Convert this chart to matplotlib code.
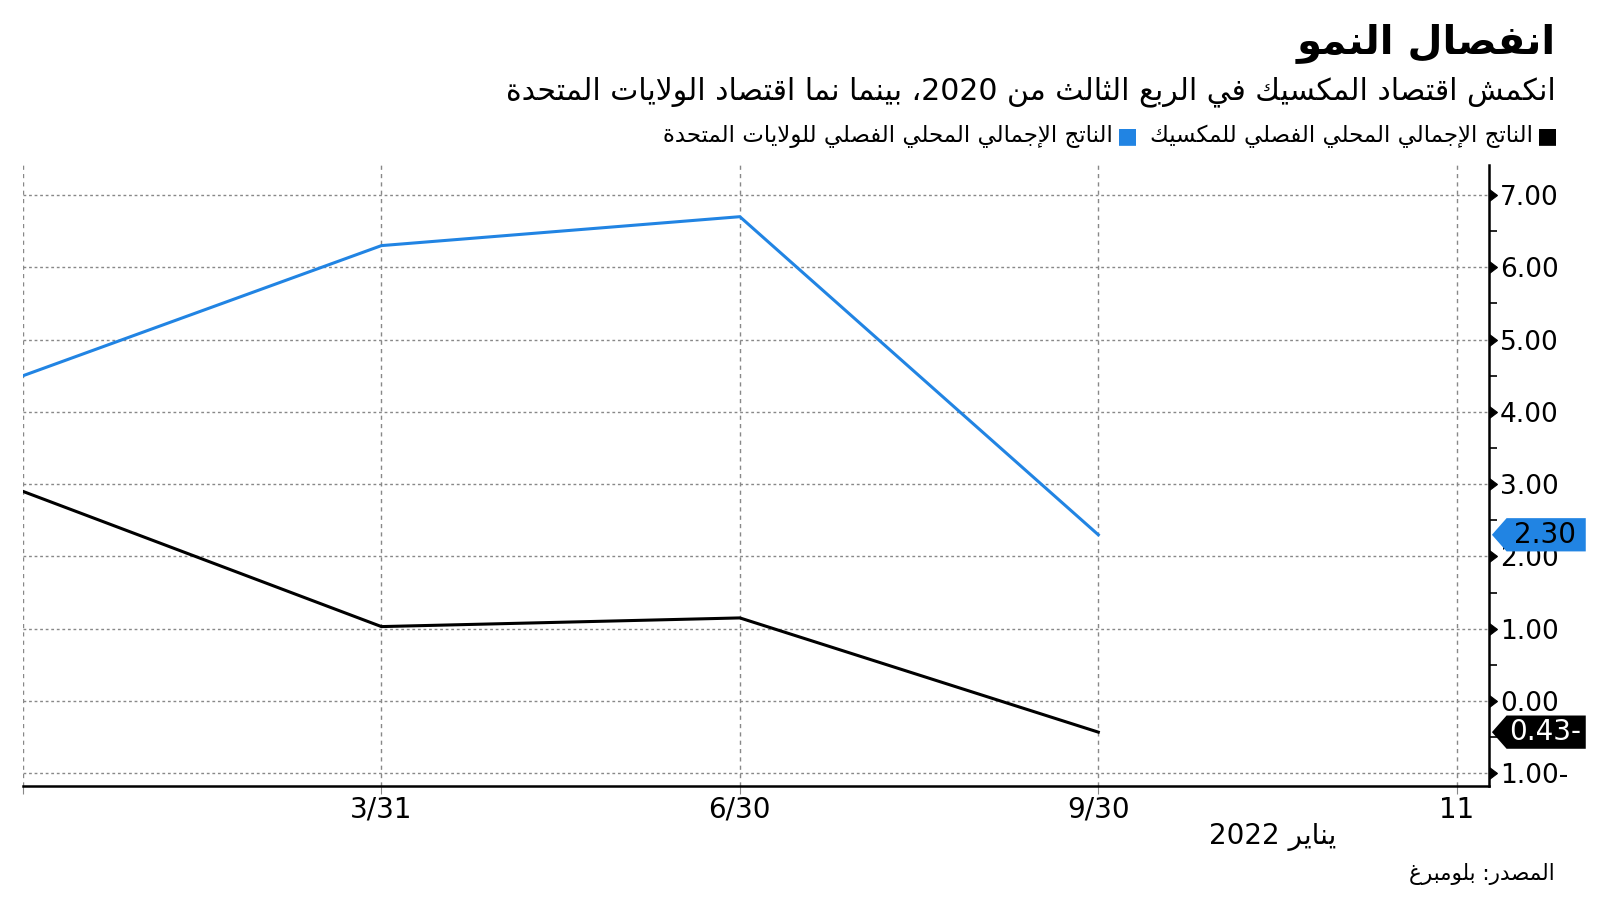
import re
import numpy as np
import matplotlib
matplotlib.use('Agg')
import matplotlib.pyplot as plt
from matplotlib.patches import Polygon
from matplotlib.transforms import blended_transform_factory

# Data
quarters = ['', '3/31', '6/30', '9/30', '11']
us_gdp = [4.50, 6.30, 6.70, 2.30]
mx_gdp = [2.90, 1.03, 1.15, -0.43]
y_ticks = [-1, 0, 1, 2, 3, 4, 5, 6, 7]
y_labels = ['1.00-', '0.00', '1.00', '2.00', '3.00', '4.00', '5.00', '6.00', '7.00']

title = 'انفصال النمو'
subtitle = 'انكمش اقتصاد المكسيك في الربع الثالث من 2020، بينما نما اقتصاد الولايات المتحدة'
leg_mx = 'الناتج الإجمالي المحلي الفصلي للمكسيك'
leg_us = 'الناتج الإجمالي المحلي الفصلي للولايات المتحدة'
month_label = 'يناير 2022'
source = 'المصدر: بلومبرغ'

blue = '#2184e3'

# --- minimal Arabic shaping (matplotlib does no joining / RTL) ---
_letters = [('ء', 0xFE80, 1), ('آ', 0xFE81, 2), ('أ', 0xFE83, 2), ('ؤ', 0xFE85, 2),
            ('إ', 0xFE87, 2), ('ئ', 0xFE89, 4), ('ا', 0xFE8D, 2), ('ب', 0xFE8F, 4),
            ('ة', 0xFE93, 2), ('ت', 0xFE95, 4), ('ث', 0xFE99, 4), ('ج', 0xFE9D, 4),
            ('ح', 0xFEA1, 4), ('خ', 0xFEA5, 4), ('د', 0xFEA9, 2), ('ذ', 0xFEAB, 2),
            ('ر', 0xFEAD, 2), ('ز', 0xFEAF, 2), ('س', 0xFEB1, 4), ('ش', 0xFEB5, 4),
            ('ص', 0xFEB9, 4), ('ض', 0xFEBD, 4), ('ط', 0xFEC1, 4), ('ظ', 0xFEC5, 4),
            ('ع', 0xFEC9, 4), ('غ', 0xFECD, 4), ('ف', 0xFED1, 4), ('ق', 0xFED5, 4),
            ('ك', 0xFED9, 4), ('ل', 0xFEDD, 4), ('م', 0xFEE1, 4), ('ن', 0xFEE5, 4),
            ('ه', 0xFEE9, 4), ('و', 0xFEED, 2), ('ى', 0xFEEF, 2), ('ي', 0xFEF1, 4)]
FORMS = {c: (b, n) for c, b, n in _letters}
LAM_ALEF = {'آ': 0xFEF5, 'أ': 0xFEF7, 'إ': 0xFEF9, 'ا': 0xFEFB}


def ar(s):
    units = []
    i = 0
    while i < len(s):
        if s[i] == 'ل' and i + 1 < len(s) and s[i + 1] in LAM_ALEF:
            units.append(('LA', LAM_ALEF[s[i + 1]], 2))
            i += 2
        elif s[i] in FORMS:
            units.append((s[i],) + FORMS[s[i]])
            i += 1
        else:
            units.append((s[i], None, 0))
            i += 1
    out = []
    for k, (c, base, n) in enumerate(units):
        if n == 0:
            out.append(c)
            continue
        jp = k > 0 and units[k - 1][2] == 4 and n >= 2
        jn = n == 4 and k + 1 < len(units) and units[k + 1][2] >= 2
        form = (1 if jp else 0) + (2 if jn else 0)
        form = min(form, n - 1) if n < 4 else form
        out.append(chr(base + form))
    vis = ''.join(out)[::-1]
    return re.sub(r'[0-9][0-9.,/]*', lambda m: m.group(0)[::-1], vis)


plt.rcParams['font.family'] = ['DejaVu Sans']

fig = plt.figure(figsize=(16, 9.01), dpi=100)
ax = fig.add_axes([23 / 1600, 1 - 786 / 901, 1466 / 1600, 621 / 901])

x = np.arange(len(us_gdp))
ax.plot(x, us_gdp, color=blue, lw=2.2, zorder=3)
ax.plot(x, mx_gdp, color='black', lw=2.2, zorder=3)

ax.set_xlim(0, 4.09)
ax.set_ylim(-1.175, 7.415)

ax.set_xticks(np.arange(len(quarters)))
ax.set_xticklabels(quarters, fontsize=20)
ax.tick_params(axis='x', length=6, color='#888888', pad=1)

ax.yaxis.tick_right()
ax.set_yticks(y_ticks)
ax.set_yticklabels(y_labels, fontsize=19)
ax.set_yticks(np.arange(-0.5, 7.5, 1.0), minor=True)
ax.tick_params(axis='y', which='major', length=0, pad=8)
ax.tick_params(axis='y', which='minor', length=6, width=1.2, color='black')
for t in ax.yaxis.get_major_ticks():
    t.tick2line.set_marker(9)
    t.tick2line.set_markersize(8)
    t.tick2line.set_color('black')

ax.grid(axis='y', linestyle=(0, (2, 2)), color='#888888', lw=1)
ax.grid(axis='x', linestyle=(0, (3, 3)), color='#888888', lw=1)

for s in ['top', 'left']:
    ax.spines[s].set_visible(False)
ax.spines['right'].set_linewidth(1.8)
ax.spines['bottom'].set_linewidth(1.8)

# last-value tags on the right axis
tr = blended_transform_factory(ax.transAxes, ax.transData)
for val, fc, tc in [(us_gdp[-1], blue, 'black'), (mx_gdp[-1], 'black', 'white')]:
    h = 0.23
    poly = Polygon([(1.002, val), (1.012, val + h), (1.066, val + h),
                    (1.066, val - h), (1.012, val - h)], closed=True,
                   transform=tr, facecolor=fc, edgecolor='none', clip_on=False, zorder=5)
    ax.add_patch(poly)
    lbl = f'{abs(val):.2f}' + ('-' if val < 0 else '')
    ax.text(1.038, val, lbl, transform=tr, ha='center', va='center',
            fontsize=20, color=tc, zorder=6, clip_on=False)

# titles
fig.text(1556 / 1600, 1 - 43 / 901, ar(title), ha='right', va='center',
         fontsize=29, fontweight='bold')
fig.text(1556 / 1600, 1 - 92 / 901, ar(subtitle), ha='right', va='center', fontsize=21.5)

# legend, laid out right to left
fig.canvas.draw()
rend = fig.canvas.get_renderer()
xr = 1558
for txt, col in [(leg_mx, 'black'), (leg_us, blue)]:
    sq = fig.text(xr / 1600, 1 - 136 / 901, '■', ha='right', va='center',
                  fontsize=16, color=col)
    w = sq.get_window_extent(rend).width
    t = fig.text((xr - w - 4) / 1600, 1 - 136 / 901, ar(txt), ha='right',
                 va='center', fontsize=16.5)
    xr = t.get_window_extent(rend).x0 - 12

fig.text(1273 / 1600, 1 - 837 / 901, ar(month_label), ha='center', va='center', fontsize=20)
fig.text(1555 / 1600, 1 - 874 / 901, ar(source), ha='right', va='center', fontsize=15.5)

fig.savefig('out.png', dpi=100)
